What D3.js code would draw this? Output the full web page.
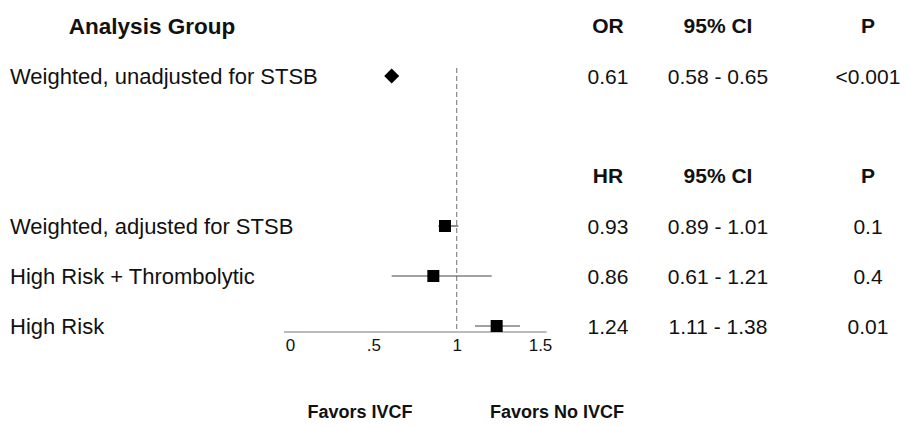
<!DOCTYPE html>
<html>
<head>
<meta charset="utf-8">
<script src="https://cdn.jsdelivr.net/npm/d3@7"></script>
<style>
  body { margin: 0; background: #fff; }
  text { font-family: "Liberation Sans", Arial, Helvetica, sans-serif; fill: #111; }
</style>
</head>
<body>
<div id="chart"></div>
<script>
// rows of the table (row index = vertical slot)
const groups = ["Weighted, unadjusted for STSB", "Weighted, adjusted for STSB", "High Risk + Thrombolytic", "High Risk"];
const rowIndex = [1, 4, 5, 6];
const estimate = [0.61, 0.93, 0.86, 1.24];
const lower = [0.58, 0.89, 0.61, 1.11];
const upper = [0.65, 1.01, 1.21, 1.38];
const estText = ["0.61", "0.93", "0.86", "1.24"];
const ciText = ["0.58 - 0.65", "0.89 - 1.01", "0.61 - 1.21", "1.11 - 1.38"];
const pText = ["<0.001", "0.1", "0.4", "0.01"];
const markType = ["diamond", "square", "square", "square"];
const headerRows = [0, 3];
const headerLabels = [["OR", "95% CI", "P"], ["HR", "95% CI", "P"]];
const xTicks = [0, 0.5, 1, 1.5];
const xTickLabels = ["0", ".5", "1", "1.5"];

const width = 910, height = 426;

const x = d3.scaleLinear().domain([0, 1.5]).range([290, 540]);
const y = d3.scaleLinear().domain([0, 6]).range([26, 326]);
const colX = [608, 718, 868];

const svg = d3.select("#chart").append("svg")
    .attr("width", width)
    .attr("height", height);

// header
svg.append("text")
    .attr("x", 152).attr("y", y(0) + 8)
    .attr("text-anchor", "middle")
    .style("font-weight", "bold").style("font-size", "22.5px")
    .text("Analysis Group");

headerRows.forEach((r, i) => {
    svg.selectAll(null)
        .data(headerLabels[i])
        .enter().append("text")
        .attr("x", (d, j) => colX[j])
        .attr("y", y(r) + 7)
        .attr("text-anchor", "middle")
        .style("font-weight", "bold").style("font-size", "21px")
        .text(d => d);
});

// axis
const axisY = 332;
const axis = svg.append("g")
    .attr("transform", `translate(0,${axisY})`)
    .call(d3.axisBottom(x).tickValues(xTicks).tickSize(0).tickPadding(7)
        .tickFormat((d, i) => xTickLabels[i]));
axis.select(".domain")
    .attr("d", `M${x(-0.036)},0H${x(1.54)}`)
    .attr("stroke", "#777");
axis.selectAll("text")
    .style("font-size", "17px")
    .attr("fill", "#111");

// null line
svg.append("line")
    .attr("x1", x(1)).attr("x2", x(1))
    .attr("y1", 68).attr("y2", axisY)
    .attr("stroke", "#888")
    .attr("stroke-width", 1.2)
    .attr("stroke-dasharray", "5,3");

const rows = groups.map((g, i) => ({
    g, r: rowIndex[i], est: estimate[i], lo: lower[i], hi: upper[i],
    t1: estText[i], t2: ciText[i], t3: pText[i], type: markType[i]
}));

// labels
svg.selectAll(".lab")
    .data(rows)
    .enter().append("text")
    .attr("class", "lab")
    .attr("x", 10)
    .attr("y", d => y(d.r) + 8)
    .style("font-size", "22px")
    .text(d => d.g);

["t1", "t2", "t3"].forEach((k, j) => {
    svg.selectAll(".c" + k)
        .data(rows)
        .enter().append("text")
        .attr("class", "c" + k)
        .attr("x", colX[j])
        .attr("y", d => y(d.r) + 8)
        .attr("text-anchor", "middle")
        .style("font-size", "21px")
        .text(d => d[k]);
});

// CIs
svg.selectAll(".ci")
    .data(rows)
    .enter().append("line")
    .attr("class", "ci")
    .attr("x1", d => x(d.lo)).attr("x2", d => x(d.hi))
    .attr("y1", d => y(d.r)).attr("y2", d => y(d.r))
    .attr("stroke", "#444")
    .attr("stroke-width", 1.2);

// markers
svg.selectAll(".mk")
    .data(rows)
    .enter().append("path")
    .attr("class", "mk")
    .attr("transform", d => `translate(${x(d.est)},${y(d.r)})`)
    .attr("d", d => d.type === "diamond" ? "M0,-7.5L7.5,0L0,7.5L-7.5,0Z" : "M-6,-6H6V6H-6Z")
    .attr("fill", "#000");

// favors
svg.append("text")
    .attr("x", 360).attr("y", 418)
    .attr("text-anchor", "middle")
    .style("font-weight", "bold").style("font-size", "18px")
    .text("Favors IVCF");
svg.append("text")
    .attr("x", 557).attr("y", 418)
    .attr("text-anchor", "middle")
    .style("font-weight", "bold").style("font-size", "18px")
    .text("Favors No IVCF");
</script>
</body>
</html>
